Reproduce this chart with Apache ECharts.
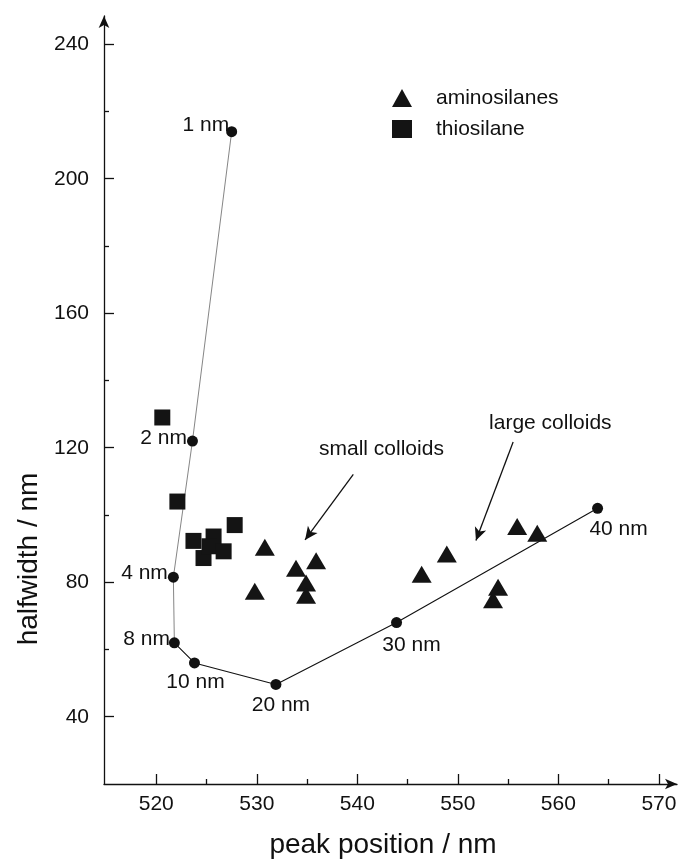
<!DOCTYPE html>
<html><head><meta charset="utf-8">
<script src="https://cdn.jsdelivr.net/npm/echarts@6/dist/echarts.min.js"></script>
<style>html,body{margin:0;padding:0;background:#fff}#c{width:689px;height:864px}</style>
</head><body><div id="c"></div>
<script>
// ---- data ----
const sizeLabels = ['1 nm', '2 nm', '4 nm', '8 nm', '10 nm', '20 nm', '30 nm', '40 nm'];
const circleX = [527.5, 523.6, 521.7, 521.8, 523.8, 531.9, 543.9, 563.9];
const circleY = [214, 122, 81.5, 62, 56, 49.6, 68, 102];

const aminoX = [529.8, 530.8, 533.9, 535.9, 534.9, 534.9, 546.4, 548.9, 553.5, 554.0, 555.9, 557.9];
const aminoY = [77.3, 90.4, 84.2, 86.4, 79.8, 76.1, 82.4, 88.4, 74.8, 78.5, 96.6, 94.6];

const thioX = [520.6, 522.1, 523.7, 524.7, 525.7, 525.3, 526.7, 527.8];
const thioY = [129, 104, 92.3, 87.2, 93.6, 90.7, 89.2, 97];

const xTickLabels = [520, 530, 540, 550, 560, 570];
const xMinorTicks = [525, 535, 545, 555, 565];
const yTickLabels = [40, 80, 120, 160, 200, 240];
const yMinorTicks = [60, 100, 140, 180, 220];

const annotationTexts = ['small colloids', 'large colloids'];
const annotationTextAt = [[542.4, 119.5], [559.2, 127.2]];
const annotationArrowFrom = [[539.6, 112.1], [555.5, 121.7]];
const annotationArrowTo = [[534.8, 92.6], [551.8, 92.4]];

// ---- layout / style (not data) ----
const FONT = 'Liberation Sans, Arial, sans-serif';
const INK = '#111';
const labelLayouts = [
  {position: 'left', distance: 0, offset: [3, -6]},
  {position: 'left', distance: 0, offset: [0, -3]},
  {position: 'left', distance: 0, offset: [0, -4]},
  {position: 'left', distance: 0, offset: [1, -4]},
  {position: 'bottom', distance: 3, offset: [1, 0]},
  {position: 'bottom', distance: 2, offset: [5, 3]},
  {position: 'bottom', distance: 2, offset: [15, 5]},
  {position: 'bottom', distance: 2, offset: [21, 3]}
];

const pts = circleX.map((x, i) => [x, circleY[i]]);
const thinIdx = [0, 1, 2, 3];
const boldIdx = [3, 4, 5, 6, 7];

const X_MIN = 514.8, X_MAX = 571.8, Y_MIN = 20, Y_MAX = 248.4;

const chart = echarts.init(document.getElementById('c'), null, {renderer: 'canvas'});
const option = {
  backgroundColor: '#fff',
  animation: false,
  textStyle: {fontFamily: FONT, color: INK},
  grid: {left: 104, right: 12, top: 16, bottom: 77.3, containLabel: false},
  legend: {
    orient: 'vertical',
    left: 387, top: 82,
    itemWidth: 20, itemHeight: 18, itemGap: 9,
    data: ['aminosilanes', 'thiosilane'],
    itemStyle: {opacity: 1},
    textStyle: {fontFamily: FONT, fontSize: 21, color: INK, lineHeight: 22, padding: [0, 0, 0, 19]}
  },
  xAxis: [{
    type: 'value', min: X_MIN, max: X_MAX,
    name: 'peak position / nm', nameLocation: 'middle', nameGap: 47,
    nameTextStyle: {fontFamily: FONT, fontSize: 28, color: INK, padding: [0, 15, 0, 0]},
    axisLine: {show: true, onZero: false, lineStyle: {color: INK, width: 1.3}, symbol: ['none', 'arrow'], symbolSize: [8, 12]},
    axisTick: {show: true, inside: true, length: 10, customValues: xTickLabels, lineStyle: {color: INK, width: 1.3}},
    axisLabel: {show: true, customValues: xTickLabels, margin: 10, fontFamily: FONT, fontSize: 21, color: INK},
    splitLine: {show: false}
  }, {
    type: 'value', min: X_MIN, max: X_MAX, position: 'bottom',
    axisLine: {show: false},
    axisTick: {show: true, inside: true, length: 5, customValues: xMinorTicks, lineStyle: {color: INK, width: 1.3}},
    axisLabel: {show: false},
    splitLine: {show: false}
  }],
  yAxis: [{
    type: 'value', min: Y_MIN, max: Y_MAX,
    name: 'halfwidth / nm', nameLocation: 'middle', nameGap: 55,
    nameTextStyle: {fontFamily: FONT, fontSize: 28, color: INK, padding: [0, 318, 0, 0]},
    axisLine: {show: true, onZero: false, lineStyle: {color: INK, width: 1.3}, symbol: ['none', 'arrow'], symbolSize: [8, 12]},
    axisTick: {show: true, inside: true, length: 10, customValues: yTickLabels, lineStyle: {color: INK, width: 1.3}},
    axisLabel: {show: true, customValues: yTickLabels, margin: 15, fontFamily: FONT, fontSize: 21, color: INK},
    splitLine: {show: false}
  }, {
    type: 'value', min: Y_MIN, max: Y_MAX, position: 'left',
    axisLine: {show: false},
    axisTick: {show: true, inside: true, length: 5, customValues: yMinorTicks, lineStyle: {color: INK, width: 1.3}},
    axisLabel: {show: false},
    splitLine: {show: false}
  }],
  series: [
    {
      name: 'size-thin', type: 'line', xAxisIndex: 0, yAxisIndex: 0,
      data: thinIdx.map(i => pts[i]), showSymbol: false, symbol: 'none',
      lineStyle: {color: '#666', width: 0.8}, silent: true, z: 2
    },
    {
      name: 'size-bold', type: 'line', xAxisIndex: 0, yAxisIndex: 0,
      data: boldIdx.map(i => pts[i]), showSymbol: false, symbol: 'none',
      lineStyle: {color: INK, width: 1.1}, silent: true, z: 2
    },
    {
      name: 'thiosilane', type: 'scatter', xAxisIndex: 0, yAxisIndex: 0,
      data: thioX.map((x, i) => [x, thioY[i]]),
      symbol: 'rect', symbolSize: 16,
      itemStyle: {color: '#141414', opacity: 1}, z: 3
    },
    {
      name: 'aminosilanes', type: 'scatter', xAxisIndex: 0, yAxisIndex: 0,
      data: aminoX.map((x, i) => [x, aminoY[i]]),
      symbol: 'triangle', symbolSize: [20, 17],
      itemStyle: {color: '#141414', opacity: 1}, z: 3,
      markLine: {
        silent: true, symbol: ['none', 'arrow'], symbolSize: [9, 13],
        lineStyle: {color: INK, width: 1.3, type: 'solid'},
        label: {show: false},
        data: annotationArrowFrom.map((f, i) => [{coord: f}, {coord: annotationArrowTo[i]}])
      },
      markPoint: {
        silent: true, symbol: 'circle', symbolSize: 1,
        itemStyle: {color: 'rgba(0,0,0,0)'},
        label: {show: true, position: 'inside', formatter: '{b}', fontFamily: FONT, fontSize: 21, color: INK},
        data: annotationTexts.map((t, i) => ({name: t, coord: annotationTextAt[i]}))
      }
    },
    {
      name: 'sizes', type: 'scatter', xAxisIndex: 0, yAxisIndex: 0,
      data: pts.map((p, i) => ({
        value: p,
        name: sizeLabels[i],
        label: Object.assign({show: true, formatter: sizeLabels[i], fontFamily: FONT, fontSize: 21, color: INK}, labelLayouts[i])
      })),
      symbol: 'circle', symbolSize: 11,
      itemStyle: {color: '#111', opacity: 1}, z: 4
    }
  ]
};
chart.setOption(option);
</script></body></html>
